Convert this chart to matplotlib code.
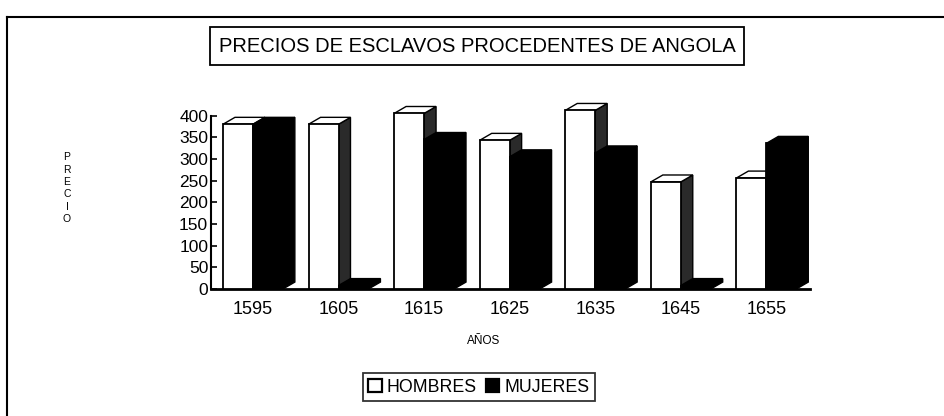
import matplotlib
matplotlib.use("Agg")
import matplotlib.pyplot as plt
from matplotlib.patches import Polygon, Patch
from matplotlib.lines import Line2D

plt.rcParams['font.family'] = ['Liberation Sans', 'DejaVu Sans']

years = ['1595', '1605', '1615', '1625', '1635', '1645', '1655']
hombres = [380, 380, 405, 343, 412, 247, 256]
mujeres = [380, 8, 345, 305, 314, 8, 336]
yticks = [0, 50, 100, 150, 200, 250, 300, 350, 400]
title = 'PRECIOS DE ESCLAVOS PROCEDENTES DE ANGOLA'
series_names = ['HOMBRES', 'MUJERES']

W, H = 944, 416
fig = plt.figure(figsize=(W / 100, H / 100), dpi=100)

# axes placement in pixels
ax_l, ax_r, ax_b, ax_t = 211, 810, 289, 115.6
ax = fig.add_axes([ax_l / W, 1 - ax_b / H, (ax_r - ax_l) / W, (ax_b - ax_t) / H])

bw = 0.35   # front face width (data units)
dx = 0.14   # depth offset x
dy = 16     # depth offset y

def bar3d(x0, x1, v, front, side, top, z):
    ax.add_patch(Polygon([(x1, 0), (x1 + dx, dy), (x1 + dx, v + dy), (x1, v)],
                         closed=True, facecolor=side, edgecolor='black', lw=1.0,
                         clip_on=False, zorder=z))
    ax.add_patch(Polygon([(x0, v), (x1, v), (x1 + dx, v + dy), (x0 + dx, v + dy)],
                         closed=True, facecolor=top, edgecolor='black', lw=1.0,
                         clip_on=False, zorder=z))
    ax.bar([x0], [v], width=x1 - x0, align='edge', color=front, edgecolor='black',
           lw=1.3, clip_on=False, zorder=z + 0.5)

for i, (h, m) in enumerate(zip(hombres, mujeres)):
    bar3d(i - bw, i, h, 'white', '#2a2a2a', 'white', 3 + i * 2)
    bar3d(i, i + bw, m, 'black', 'black', 'black', 4 + i * 2)

ax.set_xlim(-0.49, 6.51)
ax.set_ylim(0, 400)
ax.set_yticks(yticks)
ax.set_yticklabels([str(t) for t in yticks], fontsize=12.5)
ax.set_xticks(range(len(years)))
ax.set_xticklabels(years, fontsize=13)
ax.tick_params(axis='y', direction='in', length=4, width=1.2, pad=2)
ax.tick_params(axis='x', length=0, pad=9)
for s in ['top', 'right']:
    ax.spines[s].set_visible(False)
ax.spines['left'].set_linewidth(1.5)
ax.spines['bottom'].set_linewidth(2.0)
ax.set_facecolor('none')

# axis titles
fig.text(484 / W, 1 - 341 / H, 'AÑOS', fontsize=8.5, ha='center', va='center')
for k, ch in enumerate('PRECIO'):
    fig.text(67 / W, 1 - (157 + k * 12.5) / H, ch, fontsize=7.5, ha='center', va='center')

# title box
fig.text(477 / W, 1 - 46 / H, title, fontsize=14.5, ha='center', va='center',
         bbox=dict(boxstyle='square,pad=0.45', facecolor='white', edgecolor='black', lw=1.3))

# legend
handles = [Patch(facecolor='white', edgecolor='black', lw=1.6),
           Patch(facecolor='black', edgecolor='black', lw=1.6)]
leg = fig.legend(handles, series_names, loc='center', bbox_to_anchor=(479 / W, 1 - 387 / H),
                 ncol=2, fontsize=12.8, frameon=True, fancybox=False, handlelength=0.75,
                 handleheight=0.75, handletextpad=0.3, columnspacing=0.5, borderpad=0.3,
                 edgecolor='black')
leg.get_frame().set_linewidth(1.3)

# outer border (left and top edges visible)
fig.add_artist(Line2D([7 / W, 7 / W], [0, 1 - 17 / H], color='black', lw=1.5,
                      transform=fig.transFigure))
fig.add_artist(Line2D([7 / W, 1], [1 - 17 / H, 1 - 17 / H], color='black', lw=1.5,
                      transform=fig.transFigure))

fig.savefig('out.png', dpi=100)
